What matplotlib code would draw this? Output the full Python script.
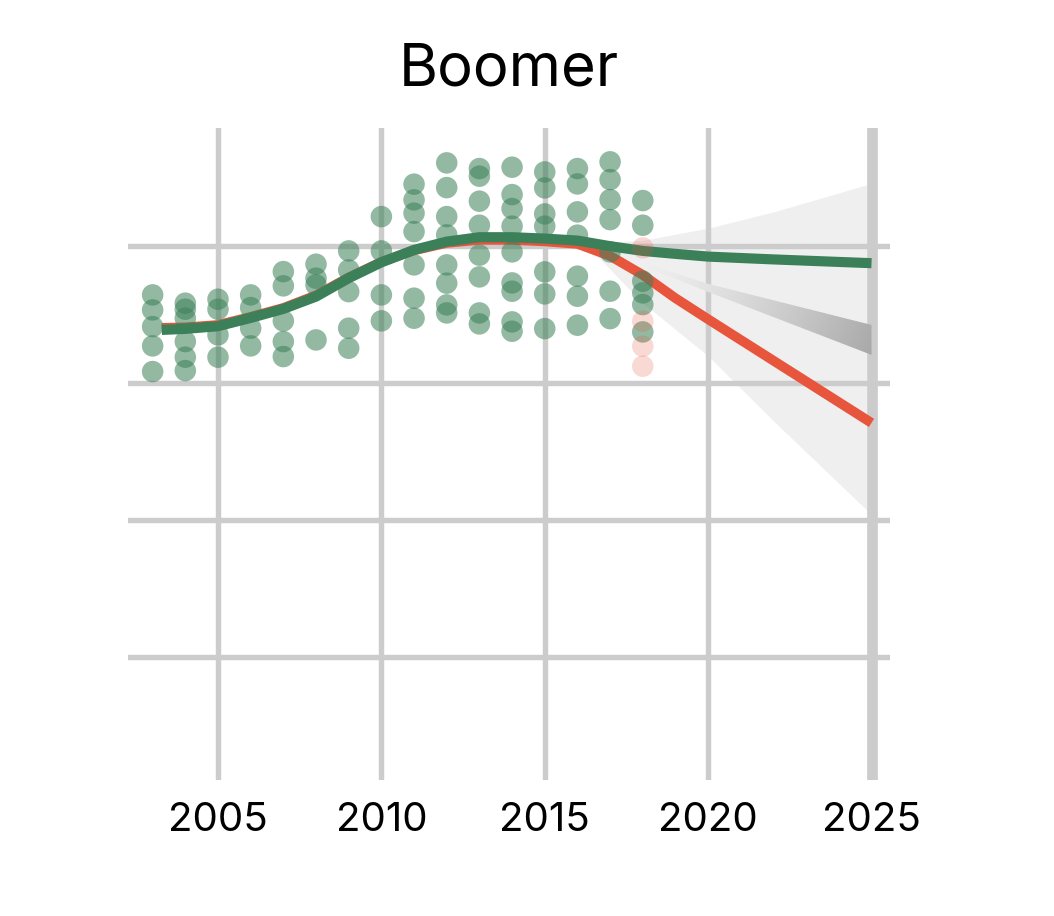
import numpy as np
import matplotlib
matplotlib.use("Agg")
import matplotlib.pyplot as plt
from matplotlib.patches import Polygon

plt.rcParams['font.family'] = ['Inter', 'DejaVu Sans']

# observed values per year (green = kept, pink = dropped, only in 2018)
pts = {
    2003: [72.87, 70.68, 68.24, 65.43, 61.68],
    2004: [71.66, 70.78, 69.47, 66.06, 63.78, 61.82],
    2005: [72.24, 70.78, 67.03, 63.78],
    2006: [72.87, 71.02, 68.01, 65.43],
    2007: [76.27, 74.19, 69.08, 66.06, 63.87],
    2008: [77.35, 75.31, 74.33, 66.30],
    2009: [79.29, 76.52, 73.35, 68.01, 65.09],
    2010: [84.30, 79.29, 72.87, 69.08],
    2011: [89.03, 86.74, 84.80, 82.11, 77.25, 72.39, 69.47],
    2012: [92.14, 88.53, 84.30, 81.63, 77.25, 74.58, 71.41, 70.24],
    2013: [91.31, 90.20, 86.55, 83.04, 78.67, 75.50, 70.24, 68.64],
    2014: [91.51, 87.51, 85.47, 82.90, 79.15, 74.62, 73.41, 68.93, 67.57],
    2015: [90.82, 88.49, 84.69, 82.90, 76.23, 73.02, 67.95],
    2016: [91.31, 89.07, 84.99, 81.59, 75.60, 72.68, 68.45],
    2017: [92.29, 89.70, 86.78, 83.86, 79.15, 73.41, 69.41],
    2018: [86.64, 83.04, 74.87, 73.16, 71.46, 67.47],
}
pink_year = 2018
pink_vals = [79.73, 69.03, 65.38, 62.46]

# smoothed trends
green_x = [2003.28, 2004, 2005, 2006, 2007, 2008, 2009, 2010, 2011, 2012, 2013,
           2014, 2015, 2016, 2017, 2018, 2019, 2020, 2022, 2025]
green_y = [67.76, 67.91, 68.30, 69.51, 70.83, 72.62, 75.31, 77.62, 79.44, 80.65, 81.29,
           81.29, 81.09, 80.80, 79.98, 79.29, 78.86, 78.46, 78.05, 77.50]
red_x = [2003.28, 2004, 2005, 2006, 2007, 2008, 2009, 2010, 2011, 2012, 2013,
         2014, 2015, 2016, 2017, 2018, 2019, 2020, 2025]
red_y = [68.06, 68.13, 68.48, 69.66, 70.97, 72.80, 75.42, 77.69, 79.37, 80.46, 80.90,
         80.90, 80.68, 80.32, 78.56, 75.79, 72.39, 69.32, 54.19]

# forecast bands
band_x = [2016.3, 2018, 2020, 2022, 2024.85]
band_hi = [80.46, 80.83, 82.61, 84.99, 88.93]
band_lo = [80.02, 71.70, 63.97, 54.48, 41.49]
wedge_x = [2017.7, 2020, 2025]
wedge_hi = [77.98, 74.48, 68.49]
wedge_lo = [77.69, 73.31, 64.12]

years = [2005, 2010, 2015, 2020, 2025]
hlines = [20, 40, 60, 80]

green = '#3b8058'
red = '#e8553d'
grid_c = '#cccccc'

fig = plt.figure(figsize=(10.54, 9.16), dpi=100)
ax = fig.add_axes([128 / 1054, 136 / 916, 762 / 1054, 652 / 916])
ax.set_xlim(2002.246, 2025.566)
ax.set_ylim(2.07, 97.23)
for s in ax.spines.values():
    s.set_visible(False)

# grid
for h in hlines:
    ax.axhline(h, color=grid_c, lw=3.9, zorder=2)
for yr in years:
    ax.axvline(yr, color=grid_c, lw=7.7 if yr == 2025 else 3.9, zorder=2)

# light band
ax.fill_between(band_x, band_lo, band_hi, color='#efefef', lw=0, zorder=1)

# darker wedge with a gradient
verts = list(zip(wedge_x, wedge_hi)) + list(zip(wedge_x[::-1], wedge_lo[::-1]))
poly = Polygon(verts, closed=True, facecolor='none', edgecolor='none')
ax.add_patch(poly)
gx = np.linspace(0, 1, 200)
gy = np.linspace(0, 1, 50)
GX, GY = np.meshgrid(gx, gy)
shade = 0.94 - 0.22 * GX ** 1.3 - 0.06 * GX * GY
img = ax.imshow(shade, cmap='gray', vmin=0, vmax=1, aspect='auto',
                extent=[wedge_x[0], wedge_x[-1], min(wedge_lo), max(wedge_hi)],
                origin='upper', zorder=3)
img.set_clip_path(poly)

# trend lines
ax.plot(red_x, red_y, color=red, lw=7.0, solid_capstyle='butt',
        solid_joinstyle='round', zorder=4)
ax.plot(green_x, green_y, color=green, lw=7.3, solid_capstyle='butt',
        solid_joinstyle='round', zorder=5)

# points
for yr, vals in pts.items():
    ax.scatter([yr] * len(vals), vals, s=240, color=green, alpha=0.55,
               edgecolors='none', zorder=6)
ax.scatter([pink_year] * len(pink_vals), pink_vals, s=240, color=red,
           alpha=0.22, edgecolors='none', zorder=6)

ax.set_xticks(years)
ax.set_xticklabels([str(y) for y in years], fontsize=29)
ax.set_yticks([])
ax.tick_params(axis='x', length=0, pad=16)

fig.text(509 / 1054, 1 - 70 / 916, 'Boomer', fontsize=43, ha='center', va='center')

fig.savefig('out.png', dpi=100)
